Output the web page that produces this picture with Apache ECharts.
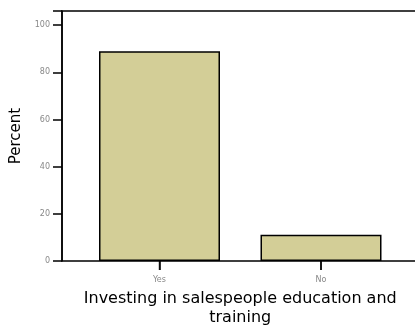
<!DOCTYPE html>
<html><head><meta charset="utf-8">
<script src="https://cdn.jsdelivr.net/npm/echarts@6/dist/echarts.min.js"></script>
<style>html,body{margin:0;padding:0;background:#fff}#c{width:415px;height:327px}</style>
</head><body><div id="c"></div>
<script>
const categories = ['Yes', 'No'];
const percentValues = [88.9, 11.1];
const yTicks = [0, 20, 40, 60, 80, 100];
const xTitle = 'Investing in salespeople education and\ntraining';
const yTitle = 'Percent';

const chart = echarts.init(document.getElementById('c'), null, {renderer: 'canvas'});
const yMin = 0, yMax = 106;
chart.setOption({
  animation: false,
  grid: [
    {left: 78.75, right: 13.25, top: 11, bottom: 66, show: false, containLabel: false, outerBoundsMode: 'none'},
    {left: 62, right: -4, top: 11, bottom: 66, show: true, borderColor: '#000', borderWidth: 1.5, backgroundColor: 'transparent', containLabel: false, outerBoundsMode: 'none'}
  ],
  xAxis: [
    {gridIndex: 0, type: 'category', data: categories, position: 'bottom',
     axisLine: {show: true, onZero: false, lineStyle: {color: 'rgba(0,0,0,0)'}},
     axisTick: {show: true, alignWithLabel: true, length: 9, lineStyle: {color: '#000', width: 1.5}},
     axisLabel: {color: '#888', fontSize: 8, fontFamily: 'DejaVu Sans', margin: 15},
     name: xTitle, nameLocation: 'middle', nameGap: 25,
     nameTextStyle: {color: '#000', fontSize: 16, fontFamily: 'DejaVu Sans', lineHeight: 19}},
    {gridIndex: 1, type: 'value', show: false, min: 0, max: 1}
  ],
  yAxis: [
    {gridIndex: 0, type: 'value', min: yMin, max: yMax, show: false},
    {gridIndex: 1, type: 'value', min: yMin, max: yMax, interval: 20,
     axisLine: {show: true, lineStyle: {color: '#000', width: 1.5}},
     axisTick: {show: true, length: 9, lineStyle: {color: '#000', width: 1.5}},
     splitLine: {show: false},
     axisLabel: {color: '#888', fontSize: 8, fontFamily: 'DejaVu Sans', margin: 12,
       formatter: v => yTicks.includes(v) ? String(v) : ''},
     name: yTitle, nameLocation: 'middle', nameGap: 36, nameRotate: 90,
     nameTextStyle: {color: '#000', fontSize: 15, fontFamily: 'DejaVu Sans'}}
  ],
  series: [
    {
      type: 'bar', xAxisIndex: 0, yAxisIndex: 0, data: percentValues,
      barWidth: 121,
      itemStyle: {color: '#d3ce97', borderColor: '#000', borderWidth: 1.5}
    },
    {
      type: 'scatter', xAxisIndex: 0, yAxisIndex: 0, silent: true, clip: false,
      data: categories.map(c => [c, 0]),
      symbol: 'rect', symbolSize: [1.5, 9], symbolOffset: [0, 4.5],
      itemStyle: {color: '#000'}, z: 5
    }
  ]
});
</script></body></html>
